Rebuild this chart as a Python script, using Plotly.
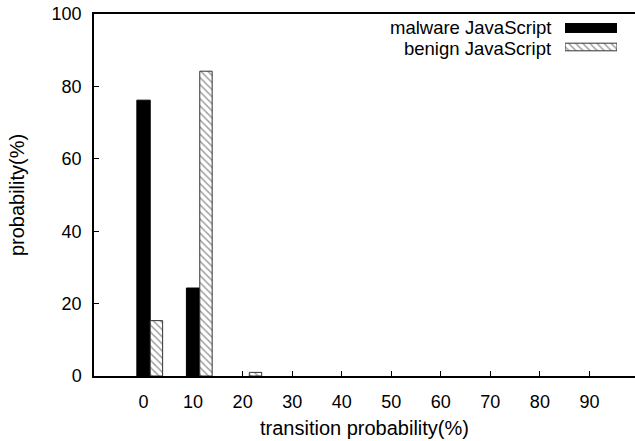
import plotly.graph_objects as go

# Data
x_vals = [0, 10, 20, 30, 40, 50, 60, 70, 80, 90]
tick_labels = ["0", "10", "20", "30", "40", "50", "60", "70", "80", "90"]
malware = [76.2, 24.3, 0, 0, 0, 0, 0, 0, 0, 0]
benign = [15.3, 84.2, 1.0, 0, 0, 0, 0, 0, 0, 0]
series_names = ["malware JavaScript", "benign JavaScript"]

FONT = "Liberation Sans, Arial, Helvetica, sans-serif"
W, H = 635, 441
ML, MR, MT, MB = 94, 0, 14, 65
PW, PH = W - ML - MR, H - MT - MB

def px_x(p):
    return (p - ML) / PW

def px_y(p):
    return (H - MB - p) / PH

hatch = dict(shape="\\", fgcolor="#444444", bgcolor="white", size=5, solidity=0.3)

fig = go.Figure()
fig.add_bar(x=x_vals, y=malware, width=2.7, offset=-1.35,
            marker=dict(color="black", line=dict(color="black", width=[1 if v > 0 else 0 for v in malware])),
            showlegend=False, xaxis="x", yaxis="y")
fig.add_bar(x=x_vals, y=benign, width=2.5, offset=1.35,
            marker=dict(color="white", pattern=hatch,
                        line=dict(color="#333333", width=[1 if v > 0 else 0 for v in benign])),
            showlegend=False, xaxis="x", yaxis="y")

# legend keys on a small helper axis
fig.add_bar(x=[1], y=[1], orientation="h", width=0.47,
            marker=dict(color="black", line=dict(color="black", width=1)),
            showlegend=False, xaxis="x2", yaxis="y2", hoverinfo="skip")
fig.add_bar(x=[1], y=[0], orientation="h", width=0.40,
            marker=dict(color="white", pattern=hatch, line=dict(color="#333333", width=1)),
            showlegend=False, xaxis="x2", yaxis="y2", hoverinfo="skip")

fig.update_layout(
    width=W, height=H,
    margin=dict(l=ML, r=MR, t=MT, b=MB, autoexpand=False),
    paper_bgcolor="white", plot_bgcolor="white",
    barmode="overlay",
    font=dict(family=FONT, size=18, color="black"),
    xaxis=dict(
        range=[-10, 99.2], tickvals=x_vals, ticktext=tick_labels,
        ticks="inside", ticklen=5, tickwidth=1, tickcolor="black",
        ticklabelstandoff=9,
        showline=True, linecolor="black", linewidth=1.5, mirror=True,
        showgrid=False, zeroline=False,
        title=dict(text="transition probability(%)", font=dict(size=20), standoff=10),
    ),
    yaxis=dict(
        range=[0, 100], tickvals=[0, 20, 40, 60, 80, 100],
        ticks="inside", ticklen=5, tickwidth=1, tickcolor="black",
        ticklabelstandoff=7,
        showline=True, linecolor="black", linewidth=1.5, mirror=False,
        showgrid=False, zeroline=False,
        title=dict(text="probability(%)", font=dict(size=20), standoff=22),
    ),
    xaxis2=dict(domain=[px_x(565), px_x(617)], range=[0, 1], anchor="y2",
                visible=False, fixedrange=True),
    yaxis2=dict(domain=[px_y(56.5), px_y(18.5)], range=[-0.5, 1.5], anchor="x2",
                visible=False, fixedrange=True),
    annotations=[
        dict(text=series_names[0], x=px_x(553), y=px_y(27.5), xref="paper", yref="paper",
             xanchor="right", yanchor="middle", showarrow=False, font=dict(size=18.5)),
        dict(text=series_names[1], x=px_x(553), y=px_y(48.5), xref="paper", yref="paper",
             xanchor="right", yanchor="middle", showarrow=False, font=dict(size=18.5)),
    ],
)

fig.write_html("out.html", config={"displayModeBar": False},
               post_script="document.body.style.margin='0';document.body.style.padding='0';")
